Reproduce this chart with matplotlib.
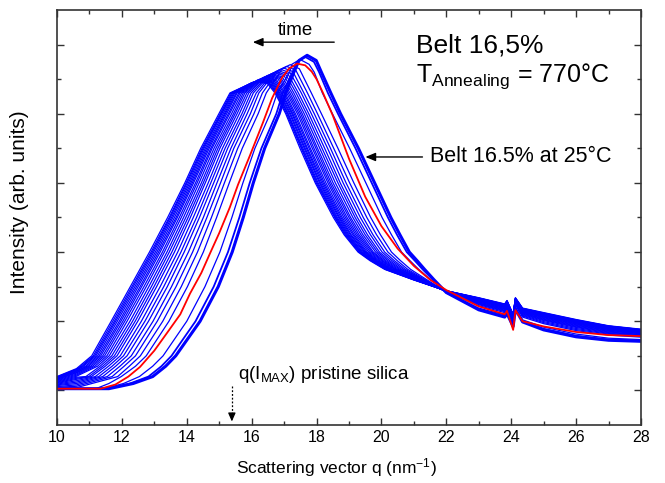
import numpy as np
import matplotlib
matplotlib.use("Agg")
import matplotlib.pyplot as plt
from matplotlib.ticker import MultipleLocator, FixedLocator, NullFormatter

plt.rcParams["font.family"] = ["Liberation Sans", "DejaVu Sans"]
plt.rcParams["mathtext.fontset"] = "custom"
plt.rcParams["mathtext.rm"] = "Liberation Sans"
plt.rcParams["mathtext.it"] = "Liberation Sans:italic"

nan = np.nan

# ── Blue scans (earliest -> latest), one entry per scan ─────────────────────
# intensity at q = 10 and q = 10.6, end of the flat baseline (early scans)
start_v = [1.05, 1.05, 1.05, 1.05, 1.06, 1.09, 1.11, 1.14, 1.16, 1.18, 1.20, 1.22,
           1.24, 1.26, 1.28, 1.30, 1.32, 1.33, 1.35, 1.36, 1.37, 1.38, 1.39, 1.40]
bump_v = [1.05, 1.05, 1.05, 1.05, 1.08, 1.12, 1.16, 1.20, 1.24, 1.28, 1.32, 1.35,
          1.38, 1.41, 1.44, 1.47, 1.50, 1.52, 1.54, 1.56, 1.58, 1.60, 1.61, 1.63]
depart_q = [11.60, 11.55, 11.45, 11.20] + [nan] * 20

# q where each scan crosses a given intensity, rising side
rise_1p2 = [12.35, 12.25, 12.05, 11.60] + [nan] * 20
rise_1p4 = [12.95, 12.82, 12.54, 11.98, 11.87, 11.70, 11.55, 11.41, 11.29, 11.18, 11.06, 10.98,
            10.89] + [nan] * 11
rise_1p7 = [13.35, 13.22, 12.95, 12.42, 12.23, 12.07, 11.94, 11.81, 11.70, 11.59, 11.49, 11.41,
            11.33, 11.25, 11.17, 11.10, 11.04, 10.98, 10.93, 10.88, 10.82, 10.78, 10.74, 10.69]
rise_2 = [13.66, 13.53, 13.27, 12.75, 12.57, 12.42, 12.29, 12.16, 12.05, 11.95, 11.85, 11.77,
          11.69, 11.61, 11.54, 11.47, 11.41, 11.35, 11.30, 11.25, 11.20, 11.16, 11.12, 11.07]
rise_3 = [14.41, 14.27, 14.00, 13.45, 13.26, 13.09, 12.96, 12.82, 12.71, 12.60, 12.49, 12.41,
          12.33, 12.25, 12.16, 12.09, 12.03, 11.97, 11.92, 11.86, 11.81, 11.77, 11.72, 11.67]
rise_4 = [14.97, 14.83, 14.56, 14.02, 13.83, 13.67, 13.53, 13.40, 13.29, 13.18, 13.07, 12.99,
          12.91, 12.83, 12.75, 12.68, 12.61, 12.56, 12.50, 12.45, 12.40, 12.35, 12.31, 12.26]
rise_5 = [15.40, 15.27, 15.02, 14.51, 14.33, 14.18, 14.05, 13.92, 13.82, 13.72, 13.62, 13.54,
          13.46, 13.39, 13.31, 13.25, 13.18, 13.13, 13.08, 13.03, 12.98, 12.94, 12.90, 12.85]
rise_6 = [15.74, 15.62, 15.39, 14.92, 14.76, 14.62, 14.51, 14.39, 14.30, 14.20, 14.11, 14.04,
          13.97, 13.90, 13.83, 13.77, 13.71, 13.67, 13.62, 13.57, 13.53, 13.49, 13.46, 13.41]
rise_7 = [16.05, 15.94, 15.73, 15.31, 15.16, 15.04, 14.93, 14.83, 14.74, 14.66, 14.57, 14.51,
          14.45, 14.38, 14.32, 14.27, 14.21, 14.17, 14.13, 14.09, 14.05, 14.01, 13.98, 13.94]
rise_8 = [16.40, 16.30, 16.10, 15.71, 15.57, 15.45, 15.36, 15.26, 15.18, 15.10, 15.02, 14.96,
          14.90, 14.84, 14.78, 14.74, 14.69, 14.65, 14.61, 14.57, 14.53, 14.50, 14.47, 14.43]
rise_9 = [16.85, 16.76, 16.57, 16.20, 16.07, 15.96, 15.86, 15.77, 15.70, 15.62, 15.55, 15.49,
          15.44, 15.38, 15.32, 15.28, 15.23, 15.19, 15.16, 15.12, 15.08, 15.06, 15.03, 14.99]
rise_9p6 = [17.05, 16.96, 16.79, 16.45, 16.33, 16.22, 16.14, 16.05, 15.98, 15.91, 15.85, 15.79,
            15.74, 15.69, 15.64, 15.60, 15.55, 15.52, 15.48, 15.45, 15.42, 15.39, 15.36, 15.33]
rise_10p2 = [17.30, 17.26, 17.17] + [nan] * 21

# top of each scan: left shoulder, maximum, right shoulder
shl_q = [17.46, 17.39, 17.24, 16.94, 16.83, 16.74, 16.66, 16.59, 16.53, 16.47, 16.41, 16.36,
         16.32, 16.28, 16.23, 16.19, 16.16, 16.13, 16.10, 16.07, 16.04, 16.01, 15.99, 15.96]
peak_q = [17.71, 17.64, 17.49, 17.19, 17.08, 16.99, 16.91, 16.84, 16.78, 16.72, 16.66, 16.61,
          16.57, 16.53, 16.48, 16.44, 16.41, 16.38, 16.35, 16.32, 16.29, 16.26, 16.24, 16.21]
shr_q = [17.99, 17.92, 17.77, 17.47, 17.36, 17.27, 17.19, 17.12, 17.06, 17.00, 16.94, 16.89,
         16.85, 16.81, 16.76, 16.72, 16.69, 16.66, 16.63, 16.60, 16.57, 16.54, 16.52, 16.49]
peak_v = [10.69, 10.65, 10.57, 10.42, 10.37, 10.32, 10.28, 10.24, 10.21, 10.18, 10.15, 10.13,
          10.10, 10.08, 10.06, 10.04, 10.02, 10.00, 9.99, 9.97, 9.96, 9.95, 9.94, 9.92]
shoulder_v = [10.54, 10.50, 10.43, 10.30, 10.26, 10.22, 10.18, 10.15, 10.12, 10.10, 10.07, 10.05,
              10.03, 10.01, 9.99, 9.98, 9.96, 9.94, 9.93, 9.92, 9.91, 9.90, 9.89, 9.87]

# q where each scan crosses a given intensity, falling side
fall_10p2 = [18.15, 18.08, 17.93] + [nan] * 21
fall_9p6 = [18.44, 18.35, 18.18, 17.84, 17.72, 17.61, 17.53, 17.44, 17.37, 17.30, 17.24, 17.18,
            17.13, 17.08, 17.03, 16.99, 16.94, 16.91, 16.87, 16.84, 16.81, 16.78, 16.75, 16.72]
fall_9 = [18.74, 18.66, 18.49, 18.15, 18.03, 17.93, 17.84, 17.76, 17.69, 17.62, 17.56, 17.51,
          17.46, 17.41, 17.35, 17.31, 17.27, 17.24, 17.20, 17.17, 17.13, 17.11, 17.08, 17.05]
fall_8 = [19.29, 19.20, 19.02, 18.66, 18.53, 18.43, 18.34, 18.25, 18.17, 18.10, 18.03, 17.98,
          17.92, 17.87, 17.81, 17.77, 17.72, 17.69, 17.65, 17.62, 17.58, 17.55, 17.53, 17.49]
fall_7 = [19.79, 19.70, 19.52, 19.15, 19.02, 18.91, 18.82, 18.73, 18.66, 18.58, 18.51, 18.45,
          18.40, 18.35, 18.29, 18.24, 18.20, 18.16, 18.12, 18.09, 18.05, 18.02, 17.99, 17.96]
fall_6 = [20.29, 20.20, 20.02, 19.67, 19.55, 19.44, 19.35, 19.26, 19.19, 19.12, 19.05, 19.00,
          18.94, 18.89, 18.84, 18.79, 18.75, 18.71, 18.68, 18.64, 18.61, 18.58, 18.56, 18.52]
fall_5p5 = [20.57, 20.48, 20.31, 19.97, 19.85, 19.74, 19.66, 19.57, 19.50, 19.43, 19.37, 19.31,
            19.26, 19.21, 19.16, 19.12, 19.07, 19.04, 19.00, 18.97, 18.94, 18.91, 18.88, 18.85]
fall_5 = [20.86, 20.78, 20.62, 20.31, 20.20, 20.10, 20.02, 19.94, 19.88, 19.82, 19.75, 19.71,
          19.66, 19.61, 19.56, 19.52, 19.49, 19.46, 19.42, 19.39, 19.36, 19.34, 19.31, 19.28]
fall_4p75 = [21.10, 21.03, 20.88, 20.59, 20.49, 20.40, 20.33, 20.26, 20.20, 20.14, 20.09, 20.04,
             20.00, 19.95, 19.91, 19.87, 19.84, 19.81, 19.78, 19.75, 19.72, 19.70, 19.68, 19.65]
fall_4p5 = [21.33, 21.27, 21.15, 20.90, 20.81, 20.74, 20.68, 20.62, 20.57, 20.52, 20.47, 20.43,
            20.40, 20.36, 20.32, 20.29, 20.26, 20.24, 20.21, 20.19, 20.16, 20.14, 20.12, 20.10]
fall_4p2 = [21.62, 21.59, 21.52, 21.40, 21.35, 21.31, 21.28, 21.25, 21.22, 21.20, 21.17, 21.15,
            21.13, 21.11, 21.10, 21.08, 21.06, 21.05, 21.04, 21.02, 21.01, 21.00, 20.99, 20.98]

# high-q tail: intensity of each scan at fixed q
tail_q = [22.0, 23.0, 23.8, 23.87, 24.06, 24.13, 24.35, 25.0, 26.0, 27.0, 28.0]
i_22 = [3.83, 3.83, 3.84, 3.85, 3.85, 3.85, 3.85, 3.86, 3.86, 3.86, 3.86, 3.86,
        3.87, 3.87, 3.87, 3.87, 3.87, 3.87, 3.88, 3.88, 3.88, 3.88, 3.88, 3.88]
i_23 = [3.33, 3.35, 3.38, 3.45, 3.48, 3.50, 3.52, 3.53, 3.55, 3.56, 3.58, 3.59,
        3.60, 3.61, 3.62, 3.63, 3.63, 3.64, 3.65, 3.66, 3.66, 3.67, 3.67, 3.68]
i_23p8 = [3.12, 3.14, 3.18, 3.25, 3.28, 3.30, 3.32, 3.34, 3.36, 3.37, 3.39, 3.40,
          3.41, 3.42, 3.43, 3.44, 3.45, 3.46, 3.47, 3.47, 3.48, 3.49, 3.49, 3.50]
i_23p87 = [3.22, 3.24, 3.28, 3.35, 3.38, 3.40, 3.42, 3.44, 3.46, 3.47, 3.49, 3.50,
           3.51, 3.52, 3.53, 3.54, 3.55, 3.56, 3.57, 3.57, 3.58, 3.59, 3.59, 3.60]
i_24p06 = [2.85, 2.87, 2.90, 2.97, 3.00, 3.02, 3.04, 3.05, 3.07, 3.08, 3.10, 3.11,
           3.12, 3.13, 3.14, 3.15, 3.15, 3.16, 3.17, 3.18, 3.18, 3.19, 3.19, 3.20]
i_24p13 = [3.35, 3.37, 3.40, 3.47, 3.49, 3.51, 3.52, 3.54, 3.55, 3.57, 3.58, 3.59,
           3.60, 3.61, 3.62, 3.63, 3.64, 3.64, 3.65, 3.66, 3.66, 3.67, 3.67, 3.68]
i_24p35 = [2.98, 3.00, 3.04, 3.12, 3.15, 3.17, 3.19, 3.21, 3.23, 3.24, 3.26, 3.27,
           3.28, 3.30, 3.31, 3.32, 3.33, 3.34, 3.34, 3.35, 3.36, 3.37, 3.37, 3.38]
i_25 = [2.75, 2.78, 2.83, 2.93, 2.96, 2.99, 3.02, 3.04, 3.06, 3.08, 3.10, 3.12,
        3.13, 3.15, 3.16, 3.17, 3.19, 3.20, 3.21, 3.22, 3.23, 3.23, 3.24, 3.25]
i_26 = [2.55, 2.58, 2.63, 2.73, 2.76, 2.79, 2.82, 2.84, 2.86, 2.88, 2.90, 2.92,
        2.93, 2.95, 2.96, 2.97, 2.99, 3.00, 3.01, 3.02, 3.03, 3.03, 3.04, 3.05]
i_27 = [2.45, 2.47, 2.51, 2.60, 2.63, 2.65, 2.67, 2.69, 2.71, 2.73, 2.74, 2.76,
        2.77, 2.78, 2.79, 2.80, 2.82, 2.82, 2.83, 2.84, 2.85, 2.86, 2.86, 2.87]
i_28 = [2.42, 2.44, 2.47, 2.54, 2.57, 2.59, 2.61, 2.62, 2.64, 2.65, 2.67, 2.68,
        2.69, 2.70, 2.71, 2.72, 2.72, 2.73, 2.74, 2.75, 2.75, 2.76, 2.76, 2.77]

# ── Red scan: Belt 16.5% at 25 °C ───────────────────────────────────────────
red_q = [10.0, 11.35, 11.8, 12.2, 12.56, 13.0, 13.39, 13.8, 14.1, 14.45, 14.72, 15.0, 15.33,
         15.58, 15.95, 16.35, 16.63, 16.94, 17.15, 17.4, 17.65, 17.85, 18.0, 18.2, 18.5, 19.0,
         19.5, 20.0, 20.5, 21.0, 21.5, 22.0, 23.0, 23.8, 23.87, 24.06, 24.13, 24.35, 25.0, 26.0,
         27.0, 28.0]
red_v = [1.05, 1.05, 1.17, 1.4, 1.68, 2.15, 2.66, 3.2, 3.8, 4.4, 4.97, 5.55, 6.3,
         6.95, 7.8, 8.75, 9.45, 10.05, 10.3, 10.45, 10.4, 10.22, 10.0, 9.6, 8.95, 7.7,
         6.6, 5.75, 5.1, 4.6, 4.2, 3.9, 3.43, 3.2, 3.3, 2.75, 3.32, 3.0, 2.85, 2.69,
         2.6, 2.57]

rise_levels = [(rise_1p2, 1.2), (rise_1p4, 1.4), (rise_1p7, 1.7), (rise_2, 2.0), (rise_3, 3.0),
               (rise_4, 4.0), (rise_5, 5.0), (rise_6, 6.0), (rise_7, 7.0), (rise_8, 8.0),
               (rise_9, 9.0), (rise_9p6, 9.6), (rise_10p2, 10.2)]
fall_levels = [(fall_10p2, 10.2), (fall_9p6, 9.6), (fall_9, 9.0), (fall_8, 8.0), (fall_7, 7.0),
               (fall_6, 6.0), (fall_5p5, 5.5), (fall_5, 5.0), (fall_4p75, 4.75),
               (fall_4p5, 4.5), (fall_4p2, 4.2)]
tail_cols = [i_22, i_23, i_23p8, i_23p87, i_24p06, i_24p13, i_24p35, i_25, i_26, i_27, i_28]

fig = plt.figure(figsize=(6.65, 4.83), dpi=100)
ax = fig.add_axes([0.0857, 0.1201, 0.8782, 0.8592])

n_scans = len(start_v)
for i in reversed(range(n_scans)):
    pts = [(10.0, start_v[i]), (10.6, bump_v[i])]
    if not np.isnan(depart_q[i]):
        pts.append((depart_q[i], start_v[i]))
    for arr, lev in rise_levels:
        if not np.isnan(arr[i]):
            pts.append((arr[i], lev))
    pts += [(shl_q[i], shoulder_v[i]), (peak_q[i], peak_v[i]), (shr_q[i], shoulder_v[i])]
    for arr, lev in fall_levels:
        if not np.isnan(arr[i]):
            pts.append((arr[i], lev))
    for qq, col in zip(tail_q, tail_cols):
        pts.append((qq, col[i]))
    xs, ys = zip(*pts)
    lw = 2.2 if i == 0 else (1.3 if i == 1 else 0.9)
    ax.plot(xs, ys, color="#0000ff", lw=lw, solid_joinstyle="round")

ax.plot(red_q, red_v, color="#ff0000", lw=1.3, solid_joinstyle="round")

ax.set_xlim(10, 28)
ax.set_ylim(0, 12)
ax.xaxis.set_major_locator(MultipleLocator(2))
ax.xaxis.set_minor_locator(MultipleLocator(1))
ax.yaxis.set_major_locator(FixedLocator([1, 3, 5, 7, 9, 11]))
ax.yaxis.set_minor_locator(FixedLocator([2, 4, 6, 8, 10]))
ax.yaxis.set_major_formatter(NullFormatter())
ax.tick_params(which="both", direction="in", top=True, right=True, width=1.0, color="#333333")
ax.tick_params(which="major", length=5, labelsize=11.5)
ax.tick_params(which="minor", length=3)
for sp in ax.spines.values():
    sp.set_linewidth(1.2)
    sp.set_color("#333333")

ax.set_xlabel("Scattering vector q (nm$^{-1}$)", fontsize=12.5)
ax.xaxis.set_label_coords(0.478, -0.075)
ax.set_ylabel("Intensity (arb. units)", fontsize=15)
ax.yaxis.set_label_coords(-0.048, 0.537)

# annotations
ax.text(17.34, 11.42, "time", fontsize=13.5, ha="center", va="center")
ax.annotate("", xy=(15.95, 11.07), xytext=(18.63, 11.07),
            arrowprops=dict(arrowstyle="-|>,head_length=0.6,head_width=0.25", color="black", lw=1.0))
ax.text(21.07, 10.98, "Belt 16,5%", fontsize=19, ha="left", va="center")
ax.text(21.07, 10.1, "T$_{\\mathrm{Annealing}}$ = 770°C", fontsize=18, ha="left", va="center")
ax.text(21.5, 7.75, "Belt 16.5% at 25°C", fontsize=15.5, ha="left", va="center")
ax.annotate("", xy=(19.42, 7.75), xytext=(21.35, 7.75),
            arrowprops=dict(arrowstyle="-|>,head_length=0.6,head_width=0.25", color="black", lw=1.0))
ax.text(15.58, 1.45, "q(I$_{\\mathrm{MAX}}$) pristine silica", fontsize=13.5, ha="left", va="center")
ax.plot([15.39, 15.39], [1.12, 0.3], color="black", lw=0.9, ls=(0, (1.5, 1.5)))
ax.annotate("", xy=(15.39, 0.02), xytext=(15.39, 0.4),
            arrowprops=dict(arrowstyle="-|>,head_length=0.5,head_width=0.22", color="black", lw=0.9))

fig.savefig("out.png", dpi=100)
